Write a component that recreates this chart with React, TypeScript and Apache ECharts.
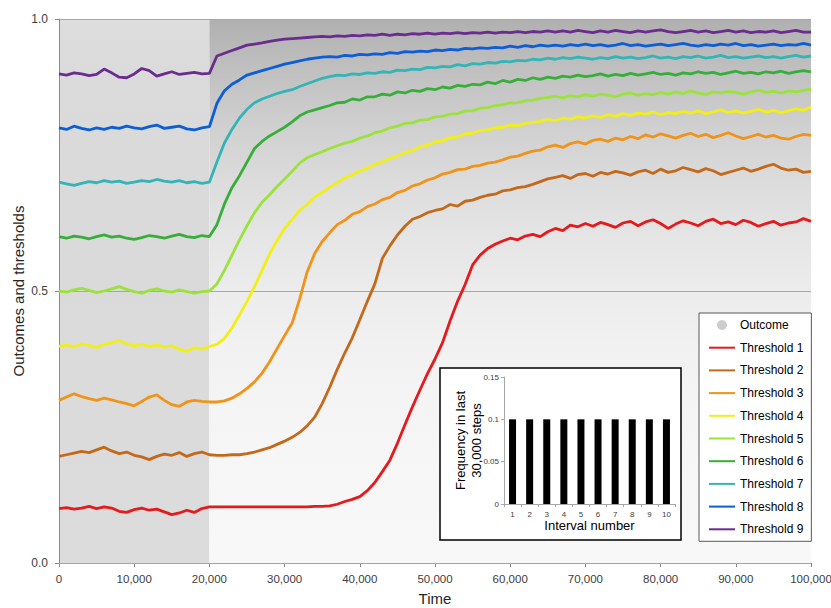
import React, { useEffect, useRef } from "react";
import * as echarts from "echarts";

const FONT = "'Liberation Sans Narrow', 'Liberation Sans', sans-serif";

// sampling grid of the threshold series (every 1,000 steps)
const TIME_STEP = 1000;

const THRESHOLD_NAMES = [
  "Threshold 1", "Threshold 2", "Threshold 3", "Threshold 4", "Threshold 5",
  "Threshold 6", "Threshold 7", "Threshold 8", "Threshold 9",
];
const THRESHOLD_COLORS = [
  "#e41a1c", "#c4691a", "#ef9419", "#f2ef17", "#9be23c",
  "#38ae3a", "#33b4b6", "#0c5ed6", "#6a2c8e",
];

const T1 = [0.100,0.102,0.099,0.101,0.104,0.100,0.103,0.101,0.095,0.093,0.098,0.101,0.097,0.099,0.094,0.089,0.092,0.097,0.093,0.100,0.103,
  0.103,0.103,0.103,0.103,0.103,0.103,0.103,0.103,0.103,0.103,0.103,0.103,0.103,0.104,0.104,
  0.105,0.108,0.113,0.117,0.122,0.133,0.148,0.168,0.189,0.220,0.254,0.287,0.318,0.348,0.375,0.405,0.445,0.481,0.512,0.548,0.566,0.578,0.586,0.592,0.597,0.594,0.601,0.604,0.600,0.609,
  0.615,0.611,0.621,0.618,0.624,0.619,0.626,0.622,0.617,0.625,0.628,0.620,0.627,0.631,0.624,0.615,0.623,0.629,0.625,0.620,0.628,0.632,0.624,0.627,0.622,0.630,0.626,0.619,0.624,0.628,0.621,0.625,0.627,0.633,0.628];

const T2 = [0.196,0.199,0.202,0.205,0.203,0.208,0.213,0.206,0.201,0.204,0.198,0.195,0.190,0.196,0.200,0.198,0.203,0.196,0.201,0.204,0.199,
  0.198,0.198,0.199,0.199,0.201,0.204,0.208,0.212,0.218,0.224,0.231,0.240,0.252,0.268,0.293,
  0.323,0.356,0.386,0.414,0.447,0.481,0.513,0.560,0.583,0.603,0.619,0.632,0.637,0.644,0.648,0.651,0.659,0.656,0.665,0.667,0.672,0.676,0.678,0.684,0.686,0.690,0.692,0.696,0.701,0.706,
  0.709,0.712,0.707,0.714,0.716,0.711,0.718,0.715,0.720,0.717,0.713,0.719,0.722,0.716,0.724,0.718,0.721,0.727,0.723,0.719,0.725,0.721,0.714,0.718,0.722,0.726,0.720,0.724,0.729,0.733,0.726,0.722,0.724,0.718,0.720];

const T3 = [0.299,0.305,0.311,0.306,0.302,0.299,0.303,0.300,0.296,0.293,0.289,0.297,0.305,0.309,0.299,0.291,0.288,0.296,0.299,0.297,0.296,
  0.296,0.298,0.303,0.311,0.321,0.333,0.349,0.370,0.394,0.418,0.441,0.485,0.535,0.569,0.591,
  0.607,0.622,0.630,0.641,0.646,0.655,0.660,0.668,0.672,0.681,0.685,0.693,0.697,0.704,0.708,0.715,0.718,0.723,0.724,0.729,0.731,0.735,0.737,0.741,0.746,0.748,0.753,0.757,0.759,0.765,
  0.768,0.764,0.771,0.774,0.770,0.777,0.779,0.775,0.781,0.778,0.784,0.780,0.787,0.783,0.789,0.785,0.781,0.786,0.790,0.784,0.788,0.782,0.786,0.791,0.785,0.780,0.784,0.788,0.783,0.786,0.781,0.779,0.784,0.788,0.786];

const T4 = [0.398,0.401,0.397,0.403,0.400,0.396,0.402,0.405,0.409,0.403,0.399,0.402,0.398,0.401,0.397,0.399,0.393,0.389,0.396,0.393,0.398,
  0.402,0.413,0.432,0.456,0.481,0.508,0.538,0.568,0.593,0.615,0.631,0.648,0.659,0.673,0.681,
  0.691,0.699,0.708,0.713,0.721,0.725,0.733,0.737,0.744,0.748,0.755,0.758,0.765,0.768,0.774,0.776,0.782,0.783,0.789,0.790,0.795,0.796,0.800,0.801,0.805,0.804,0.808,0.810,0.812,0.815,
  0.813,0.818,0.816,0.820,0.818,0.822,0.819,0.824,0.821,0.826,0.823,0.827,0.825,0.829,0.824,0.828,0.826,0.830,0.827,0.831,0.826,0.829,0.833,0.828,0.831,0.827,0.830,0.834,0.829,0.832,0.828,0.831,0.835,0.832,0.838];

const T5 = [0.500,0.498,0.502,0.505,0.501,0.497,0.500,0.504,0.508,0.503,0.499,0.496,0.501,0.504,0.500,0.498,0.502,0.499,0.496,0.499,0.500,
  0.513,0.538,0.566,0.594,0.620,0.644,0.663,0.677,0.692,0.706,0.720,0.735,0.745,0.751,0.756,
  0.762,0.767,0.772,0.775,0.781,0.785,0.791,0.794,0.800,0.803,0.808,0.809,0.814,0.815,0.820,0.821,0.825,0.826,0.831,0.831,0.836,0.837,0.841,0.842,0.846,0.846,0.850,0.851,0.854,0.856,
  0.858,0.855,0.859,0.857,0.861,0.858,0.862,0.860,0.857,0.862,0.864,0.860,0.863,0.861,0.865,0.862,0.866,0.863,0.868,0.864,0.861,0.866,0.864,0.867,0.865,0.862,0.866,0.869,0.865,0.867,0.864,0.868,0.866,0.869,0.871];

const T6 = [0.600,0.597,0.601,0.599,0.596,0.600,0.603,0.599,0.601,0.597,0.595,0.598,0.602,0.600,0.597,0.601,0.604,0.600,0.598,0.602,0.600,
  0.622,0.660,0.690,0.712,0.737,0.762,0.775,0.785,0.793,0.801,0.811,0.822,0.829,0.833,0.837,
  0.841,0.846,0.847,0.853,0.851,0.857,0.857,0.862,0.860,0.866,0.864,0.869,0.867,0.872,0.870,0.875,0.873,0.878,0.876,0.880,0.879,0.884,0.881,0.887,0.884,0.889,0.887,0.892,0.889,0.893,
  0.891,0.895,0.893,0.897,0.894,0.896,0.899,0.895,0.898,0.896,0.900,0.897,0.899,0.902,0.898,0.900,0.897,0.901,0.899,0.903,0.900,0.902,0.898,0.901,0.904,0.900,0.902,0.899,0.903,0.901,0.904,0.900,0.903,0.905,0.903];

const T7 = [0.700,0.697,0.694,0.698,0.701,0.699,0.703,0.700,0.702,0.698,0.700,0.703,0.701,0.705,0.702,0.700,0.703,0.699,0.701,0.698,0.700,
  0.737,0.772,0.797,0.818,0.834,0.846,0.853,0.858,0.863,0.867,0.870,0.876,0.881,0.886,0.891,
  0.894,0.897,0.896,0.899,0.898,0.901,0.900,0.903,0.902,0.906,0.905,0.908,0.907,0.911,0.910,0.913,0.912,0.916,0.914,0.918,0.917,0.920,0.919,0.922,0.921,0.924,0.923,0.926,0.925,0.928,
  0.926,0.929,0.927,0.930,0.928,0.926,0.929,0.927,0.931,0.928,0.930,0.927,0.929,0.932,0.928,0.930,0.927,0.931,0.929,0.932,0.928,0.930,0.933,0.929,0.931,0.928,0.930,0.932,0.929,0.931,0.928,0.931,0.933,0.930,0.932];

const T8 = [0.800,0.797,0.803,0.799,0.796,0.800,0.797,0.801,0.799,0.803,0.800,0.798,0.802,0.805,0.799,0.801,0.803,0.798,0.796,0.800,0.802,
  0.845,0.868,0.880,0.888,0.897,0.901,0.905,0.909,0.913,0.917,0.920,0.923,0.926,0.928,0.930,
  0.931,0.930,0.933,0.932,0.935,0.934,0.936,0.935,0.938,0.937,0.940,0.939,0.941,0.940,0.943,0.942,0.944,0.943,0.946,0.945,0.947,0.946,0.948,0.947,0.950,0.948,0.951,0.949,0.952,0.950,
  0.952,0.950,0.953,0.951,0.954,0.951,0.953,0.950,0.952,0.955,0.951,0.953,0.950,0.952,0.954,0.951,0.953,0.955,0.952,0.950,0.953,0.951,0.954,0.952,0.955,0.951,0.953,0.950,0.952,0.954,0.951,0.953,0.952,0.955,0.952];

const T9 = [0.899,0.897,0.901,0.899,0.896,0.898,0.908,0.901,0.893,0.892,0.899,0.909,0.905,0.895,0.899,0.903,0.898,0.900,0.902,0.899,0.900,
  0.932,0.937,0.942,0.947,0.952,0.954,0.956,0.959,0.961,0.963,0.964,0.965,0.966,0.967,0.968,
  0.967,0.969,0.968,0.970,0.969,0.971,0.970,0.972,0.970,0.972,0.971,0.973,0.972,0.974,0.972,0.974,0.973,0.975,0.973,0.975,0.974,0.976,0.974,0.976,0.975,0.977,0.975,0.977,0.976,0.978,
  0.976,0.978,0.976,0.979,0.977,0.975,0.978,0.976,0.979,0.977,0.975,0.978,0.976,0.978,0.980,0.977,0.975,0.977,0.979,0.976,0.978,0.975,0.977,0.979,0.976,0.978,0.975,0.977,0.976,0.978,0.975,0.977,0.979,0.976,0.976];

const THRESHOLDS = [T1, T2, T3, T4, T5, T6, T7, T8, T9];

// outcome cloud: mean grey level (0-255) of the scattered outcomes, read per outcome level
const BG_LEVELS = [0, 0.1, 0.2, 0.3, 0.4, 0.5, 0.6, 0.7, 0.8, 0.9, 1.0];
const BG_GRAY_BEFORE = [220, 220, 219, 219, 219, 218, 218, 218, 218, 219, 221];
const BG_GRAY_AFTER = [248, 247, 246, 244, 241, 236, 229, 220, 208, 193, 176];
const REGIMES = [
  [0, 20000, 0],
  [20000, 100000, 1],
];

// inset bar chart
const BAR_CATEGORIES = ["1", "2", "3", "4", "5", "6", "7", "8", "9", "10"];
const BAR_VALUES = [0.1, 0.1, 0.1, 0.1, 0.1, 0.1, 0.1, 0.1, 0.1, 0.1];

export default function App() {
  const ref = useRef<HTMLDivElement>(null);
  useEffect(() => {
    if (!ref.current) return;
    const chart = echarts.init(ref.current, undefined, { renderer: "svg" });

    const grayOf = (g: number) => `rgb(${g},${g},${g})`;
    const gradients = [BG_GRAY_BEFORE, BG_GRAY_AFTER].map((grays) => {
      const stops = BG_LEVELS.map((lv, k) => ({ offset: 1 - lv, color: grayOf(grays[k]) }));
      stops.sort((a, b) => a.offset - b.offset);
      return stops;
    });

    const lineSeries = THRESHOLDS.map((vals, s) => ({
      name: THRESHOLD_NAMES[s],
      type: "line",
      xAxisIndex: 0,
      yAxisIndex: 0,
      symbol: "none",
      showSymbol: false,
      z: 3,
      lineStyle: { width: 2.8, color: THRESHOLD_COLORS[s] },
      itemStyle: { color: THRESHOLD_COLORS[s] },
      data: vals.map((v, i) => [i * TIME_STEP, v]),
    }));

    const option: any = {
      animation: false,
      textStyle: { fontFamily: FONT },
      grid: [
        { left: 59, top: 19, right: 20, bottom: 45, containLabel: false, outerBoundsMode: "none" },
        { left: 504, top: 377, width: 171, height: 127, containLabel: false, outerBoundsMode: "none" },
      ],
      xAxis: [
        {
          gridIndex: 0,
          type: "value",
          min: 0,
          max: 100000,
          interval: 10000,
          axisLine: { show: true, lineStyle: { color: "#8c8c8c", width: 1 } },
          axisTick: { show: true, length: 4, lineStyle: { color: "#8c8c8c" } },
          splitLine: { show: false },
          axisLabel: {
            fontFamily: FONT,
            fontSize: 11.5,
            color: "#404040",
            margin: 10,
            formatter: (v: number) => v.toLocaleString("en-US"),
          },
          name: "Time",
          nameLocation: "middle",
          nameGap: 28,
          nameMoveOverlap: false,
          nameTextStyle: { fontFamily: FONT, fontSize: 15, color: "#262626" },
        },
        {
          gridIndex: 1,
          type: "category",
          data: BAR_CATEGORIES,
          z: 12,
          axisLine: { show: true, lineStyle: { color: "#a6a6a6" } },
          axisTick: { show: true, length: 3, lineStyle: { color: "#a6a6a6" } },
          axisLabel: { fontFamily: FONT, fontSize: 8, color: "#404040", margin: 6 },
          name: "Interval number",
          nameLocation: "middle",
          nameGap: 15,
          nameMoveOverlap: false,
          nameTextStyle: { fontFamily: FONT, fontSize: 13, color: "#000" },
        },
      ],
      yAxis: [
        {
          gridIndex: 0,
          type: "value",
          min: 0,
          max: 1,
          interval: 0.5,
          z: 2,
          axisLine: { show: true, lineStyle: { color: "#8c8c8c", width: 1 } },
          axisTick: { show: true, length: 4, lineStyle: { color: "#8c8c8c" } },
          splitLine: { show: true, lineStyle: { color: "#a6a6a6", width: 1 } },
          axisLabel: {
            fontFamily: FONT,
            fontSize: 12,
            color: "#404040",
            margin: 11,
            formatter: (v: number) => v.toFixed(1),
          },
          name: "Outcomes and thresholds",
          nameLocation: "middle",
          nameGap: 33,
          nameMoveOverlap: false,
          nameTextStyle: { fontFamily: FONT, fontSize: 15, color: "#262626" },
        },
        {
          gridIndex: 1,
          type: "value",
          min: 0,
          max: 0.15,
          interval: 0.05,
          z: 12,
          axisLine: { show: true, lineStyle: { color: "#a6a6a6" } },
          axisTick: { show: true, length: 3, lineStyle: { color: "#a6a6a6" } },
          splitLine: { show: false },
          axisLabel: { fontFamily: FONT, fontSize: 8, color: "#404040", margin: 5 },
          name: "Frequency in last\n30,000 steps",
          nameLocation: "middle",
          nameGap: 20,
          nameMoveOverlap: false,
          nameTextStyle: { fontFamily: FONT, fontSize: 13, color: "#000", lineHeight: 16 },
        },
      ],
      legend: {
        orient: "vertical",
        left: 699,
        top: 313,
        padding: [6, 8, 6, 9],
        itemGap: 10.7,
        itemWidth: 26,
        itemHeight: 10,
        backgroundColor: "#ffffff",
        borderColor: "#595959",
        borderWidth: 1,
        z: 6,
        textStyle: { fontFamily: FONT, fontSize: 12, color: "#000" },
        data: [
          { name: "Outcome", icon: "circle" },
          ...THRESHOLD_NAMES.map((n) => ({ name: n, itemStyle: { opacity: 0 } })),
        ],
      },
      graphic: [
        {
          type: "rect",
          z: 10,
          shape: { x: 440, y: 368, width: 241, height: 172 },
          style: { fill: "#ffffff", stroke: "#000000", lineWidth: 1.5 },
        },
      ],
      series: [
        {
          name: "outcome-cloud",
          type: "custom",
          xAxisIndex: 0,
          yAxisIndex: 0,
          z: 1,
          silent: true,
          encode: { x: [0, 1] },
          data: REGIMES,
          renderItem: (params: any, api: any) => {
            const t0 = api.value(0);
            const t1 = api.value(1);
            const idx = api.value(2);
            const tl = api.coord([t0, 1]);
            const br = api.coord([t1, 0]);
            return {
              type: "rect",
              silent: true,
              shape: { x: tl[0], y: tl[1], width: br[0] - tl[0], height: br[1] - tl[1] },
              style: { fill: new echarts.graphic.LinearGradient(0, 0, 0, 1, gradients[idx]) },
            };
          },
        },
        {
          name: "Outcome",
          type: "scatter",
          xAxisIndex: 0,
          yAxisIndex: 0,
          itemStyle: { color: "#c0c0c0" },
          data: [],
        },
        ...lineSeries,
        {
          name: "Frequency",
          type: "bar",
          xAxisIndex: 1,
          yAxisIndex: 1,
          z: 12,
          barWidth: 7,
          itemStyle: { color: "#000000" },
          data: BAR_VALUES,
        },
      ],
    };

    chart.setOption(option);
    return () => chart.dispose();
  }, []);

  return (
    <div
      ref={ref}
      style={{ position: "fixed", left: 0, top: 0, width: 831, height: 608, background: "#fff" }}
    />
  );
}
